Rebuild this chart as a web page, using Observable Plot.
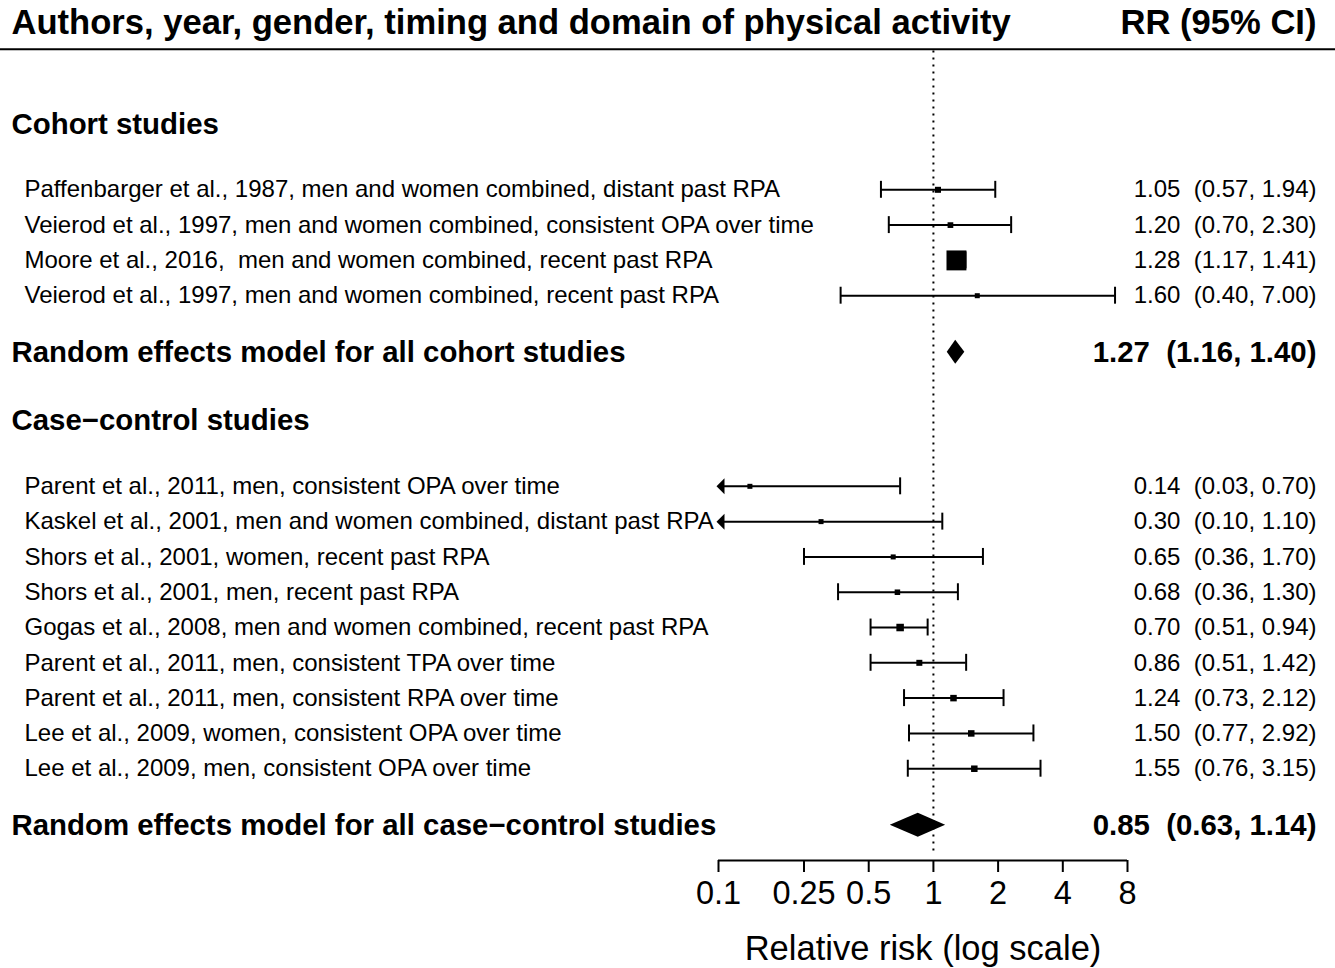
<!DOCTYPE html>
<html>
<head>
<meta charset="utf-8">
<script src="https://cdn.jsdelivr.net/npm/d3@7"></script>
<script src="https://cdn.jsdelivr.net/npm/@observablehq/plot@0.6"></script>
<style>
  body { margin: 0; background: #fff; }
  svg text { white-space: pre; }
</style>
</head>
<body>
<div id="chart"></div>
<script>
// ---------- data ----------
const titleLeft = "Authors, year, gender, timing and domain of physical activity";
const titleRight = "RR (95% CI)";
const axisTitle = "Relative risk (log scale)";
const axisTicks = [0.1, 0.25, 0.5, 1, 2, 4, 8];
const axisTickLabels = ["0.1", "0.25", "0.5", "1", "2", "4", "8"];

const cohortHeading = "Cohort studies";
const cohortLabels = [
  "Paffenbarger et al., 1987, men and women combined, distant past RPA",
  "Veierod et al., 1997, men and women combined, consistent OPA over time",
  "Moore et al., 2016,  men and women combined, recent past RPA",
  "Veierod et al., 1997, men and women combined, recent past RPA"
];
// drawn estimates and interval ends, as read from the plotted marks
const cohortRR = [1.05, 1.20, 1.28, 1.60];
const cohortLo = [0.57, 0.62, 1.17, 0.37];
const cohortHi = [1.94, 2.30, 1.41, 7.00];
const cohortWeight = [8.2, 7.4, 90, 5.7];
const cohortCI = ["1.05  (0.57, 1.94)", "1.20  (0.70, 2.30)", "1.28  (1.17, 1.41)", "1.60  (0.40, 7.00)"];

const ccHeading = "Case\u2212control studies";
const ccLabels = [
  "Parent et al., 2011, men, consistent OPA over time",
  "Kaskel et al., 2001, men and women combined, distant past RPA",
  "Shors et al., 2001, women, recent past RPA",
  "Shors et al., 2001, men, recent past RPA",
  "Gogas et al., 2008, men and women combined, recent past RPA",
  "Parent et al., 2011, men, consistent TPA over time",
  "Parent et al., 2011, men, consistent RPA over time",
  "Lee et al., 2009, women, consistent OPA over time",
  "Lee et al., 2009, men, consistent OPA over time"
];
const ccRR = [0.14, 0.30, 0.65, 0.68, 0.70, 0.86, 1.24, 1.50, 1.55];
const ccLo = [0.03, 0.10, 0.25, 0.36, 0.51, 0.51, 0.73, 0.77, 0.76];
const ccHi = [0.70, 1.10, 1.70, 1.30, 0.94, 1.42, 2.12, 2.92, 3.15];
const ccWeight = [5.7, 5.7, 5.7, 6.9, 12.8, 8.2, 9.6, 9.6, 9.6];
const ccCI = ["0.14  (0.03, 0.70)", "0.30  (0.10, 1.10)", "0.65  (0.36, 1.70)", "0.68  (0.36, 1.30)",
  "0.70  (0.51, 0.94)", "0.86  (0.51, 1.42)", "1.24  (0.73, 2.12)", "1.50  (0.77, 2.92)", "1.55  (0.76, 3.15)"];

const summaryLabels = ["Random effects model for all cohort studies", "Random effects model for all case\u2212control studies"];
const summaryRR = [1.27, 0.85];
const summaryLo = [1.16, 0.63];
const summaryHi = [1.40, 1.14];
const summaryCI = ["1.27  (1.16, 1.40)", "0.85  (0.63, 1.14)"];

// ---------- layout (row units) ----------
const R = { title: -4.74, rule: -3.98, cohortHead: -1.85, cohortFirst: 0, cohortSum: 4.6,
            ccHead: 6.54, ccFirst: 8.4, ccSum: 18.0, axis: 19, axisTitle: 21.5 };
const xMin = axisTicks[0], xMax = axisTicks[axisTicks.length - 1];

const studies = [
  ...cohortLabels.map((label, i) => ({label, rr: cohortRR[i], lo: cohortLo[i], hi: cohortHi[i], w: cohortWeight[i], ci: cohortCI[i], row: R.cohortFirst + i})),
  ...ccLabels.map((label, i) => ({label, rr: ccRR[i], lo: ccLo[i], hi: ccHi[i], w: ccWeight[i], ci: ccCI[i], row: R.ccFirst + i}))
];
const summaries = summaryLabels.map((label, i) => ({label, rr: summaryRR[i], lo: summaryLo[i], hi: summaryHi[i], ci: summaryCI[i], row: [R.cohortSum, R.ccSum][i]}));
const headings = [{label: cohortHeading, row: R.cohortHead}, {label: ccHeading, row: R.ccHead}];

const dh = 0.34;
const diamonds = summaries.flatMap((s, g) => [
  {g, x: s.lo, y1: s.row, y2: s.row},
  {g, x: s.rr, y1: s.row - dh, y2: s.row + dh},
  {g, x: s.hi, y1: s.row, y2: s.row}
]);
const capH = 0.24;
const caps = studies.flatMap(d => [
  ...(d.lo > xMin ? [{x: d.lo, row: d.row}] : []),
  {x: d.hi, row: d.row}
]);
const clipped = studies.filter(d => d.lo <= xMin);
const tickData = axisTicks.map((t, i) => ({t, label: axisTickLabels[i]}));

const squareSymbol = { draw(ctx, size) { const h = Math.sqrt(size / Math.PI); ctx.rect(-h, -h, 2 * h, 2 * h); } };
const arrowLeft = { draw(ctx) { ctx.moveTo(-2, 0); ctx.lineTo(6, -8); ctx.lineTo(6, 8); ctx.closePath(); } };

const chart = Plot.plot({
  width: 1335,
  height: 968,
  marginLeft: 0, marginRight: 0, marginTop: 0, marginBottom: 108,
  style: { fontFamily: "'Liberation Sans', Arial, Helvetica, sans-serif", fontSize: "24px", color: "black", background: "white" },
  x: { type: "log", domain: [xMin, xMax], range: [718, 1127], axis: null },
  y: { domain: [-5.363, 19.0], range: [0, 860], axis: null },
  r: { type: "sqrt", domain: [0, 100], range: [0, 10.5] },
  marks: [
    // header
    Plot.text([titleLeft], {y: () => R.title, frameAnchor: "left", dx: 11, textAnchor: "start", fontWeight: "bold", fontSize: 34.6}),
    Plot.text([titleRight], {y: () => R.title, frameAnchor: "right", dx: -19, textAnchor: "end", fontWeight: "bold", fontSize: 34.6}),
    Plot.ruleY([R.rule], {strokeWidth: 2}),
    // reference line at RR = 1
    Plot.ruleX([1], {y1: R.rule + 0.05, y2: R.axis - 0.15, strokeDasharray: "2,5", strokeWidth: 2}),
    // headings
    Plot.text(headings, {y: "row", text: "label", frameAnchor: "left", dx: 11, textAnchor: "start", fontWeight: "bold", fontSize: 29.4}),
    // study labels
    Plot.text(studies, {y: "row", text: "label", frameAnchor: "left", dx: 24, textAnchor: "start", fontSize: 24}),
    Plot.text(studies, {y: "row", text: "ci", frameAnchor: "right", dx: -19, textAnchor: "end", fontSize: 24}),
    // CI lines
    Plot.ruleY(studies, {y: "row", x1: d => Math.max(d.lo, xMin), x2: "hi", strokeWidth: 2}),
    Plot.ruleX(caps, {x: "x", y1: d => d.row - capH, y2: d => d.row + capH, strokeWidth: 2}),
    Plot.dot(clipped, {x: () => xMin, y: "row", symbol: arrowLeft, r: 5, fill: "black", stroke: null}),
    Plot.dot(studies, {x: "rr", y: "row", r: "w", symbol: squareSymbol, fill: "black", stroke: null}),
    // summaries
    Plot.areaY(diamonds, {x: "x", y1: "y1", y2: "y2", z: "g", fill: "black"}),
    Plot.text(summaries, {y: "row", text: "label", frameAnchor: "left", dx: 11, textAnchor: "start", fontWeight: "bold", fontSize: 29.4}),
    Plot.text(summaries, {y: "row", text: "ci", frameAnchor: "right", dx: -19, textAnchor: "end", fontWeight: "bold", fontSize: 29.4}),
    // axis
    Plot.ruleY([R.axis], {x1: xMin, x2: xMax, strokeWidth: 2}),
    Plot.ruleX(tickData, {x: "t", y1: R.axis, y2: R.axis + 0.34, strokeWidth: 2}),
    Plot.text(tickData, {x: "t", y: () => R.axis + 0.94, text: "label", textAnchor: "middle", fontSize: 32.5}),
    Plot.text([axisTitle], {x: () => Math.sqrt(xMin * xMax), y: () => R.axisTitle, textAnchor: "middle", fontSize: 34.5})
  ]
});
document.getElementById("chart").append(chart);
</script>
</body>
</html>
